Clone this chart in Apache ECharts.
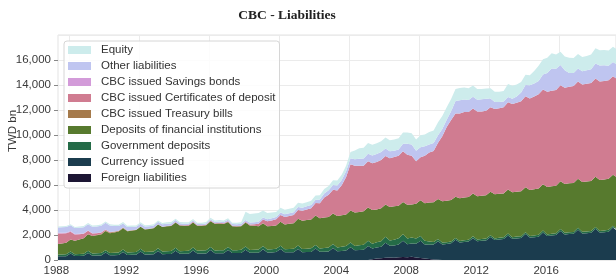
<!DOCTYPE html>
<html><head><meta charset="utf-8">
<script src="https://cdn.jsdelivr.net/npm/echarts@6/dist/echarts.min.js"></script>
<style>html,body{margin:0;padding:0;background:#fff}#c{width:616px;height:280px}</style>
</head><body><div id="c"></div>
<script>
// Quarterly observations (Feb, May, Aug, Nov) from May 1987 to May 2019, TWD bn
const startYear = 1987, startMonth = 4, nPoints = 129;
const tickYears = [1988, 1992, 1996, 2000, 2004, 2008, 2012, 2016];
const yTicks = [0, 2000, 4000, 6000, 8000, 10000, 12000, 14000, 16000];

const seriesNames = ['Foreign liabilities', 'Currency issued', 'Government deposits',
  'Deposits of financial institutions', 'CBC issued Treasury bills',
  'CBC issued Certificates of deposit', 'CBC issued Savings bonds',
  'Other liabilities', 'Equity'];

const foreign = [
0,0,0,
0,0,0,0, 0,0,0,0, 0,0,0,0, 0,0,0,0, 0,0,0,0, 0,0,0,0, 0,0,0,0, 0,0,0,0, 0,0,0,0,
0,0,0,0, 0,0,0,0, 0,0,0,0, 0,0,0,0, 0,0,0,0, 0,0,0,0, 0,0,0,0, 0,0,0,0,
0,60,120,150, 180,200,190,230, 250,220,260,200, 160,120,80,40, 20,0,0,0,
0,0,0,0, 0,0,0,0, 0,0,0,0, 0,0,0,0, 0,0,0,0, 0,0,0,0, 0,0,0,0, 0,0,0,0, 0,0,0,0,
0,0];

const currency = [
290,300,310,
520,320,330,340, 560,350,360,370, 600,380,390,400, 640,410,420,430,
680,440,450,460, 720,470,480,490, 750,500,505,510, 770,520,525,530,
800,540,545,550, 810,555,560,570, 830,575,580,590, 860,600,610,640,
880,620,625,630, 890,630,640,650, 920,660,670,690, 960,710,730,760,
1030,780,800,830, 1120,860,880,910, 1200,950,980,1020, 1300,1050,1070,1100,
1380,1120,1150,1200, 1480,1250,1290,1340, 1620,1400,1440,1480, 1740,1510,1540,1570,
1840,1600,1640,1680, 1960,1700,1730,1770, 2080,1800,1830,1870, 2200,1920,1960,2010,
2330,2050,2080,2110, 2420,2130,2150,2180, 2500,2200,2230,2270,
2600,2330];

const government = [
160,150,150,
170,150,160,170, 180,170,180,190, 190,180,200,210, 200,190,210,220,
220,200,210,230, 230,210,220,240, 230,210,220,240, 240,220,230,250,
240,220,230,240, 240,220,230,250, 250,230,240,260, 260,240,250,270,
270,250,260,280, 280,260,270,290, 290,270,300,320, 320,300,330,360,
380,350,380,400, 420,380,420,450, 480,420,460,500, 520,450,480,420,
380,300,250,200, 180,150,140,140, 150,130,140,140, 160,130,140,150,
150,130,140,140, 160,130,150,140, 150,130,140,150, 160,130,140,140,
150,130,150,140, 160,130,140,140, 150,130,140,150,
150,130];

const deposits = [
830,870,920,
960,1080,1160,1240, 1320,1400,1440,1490, 1530,1590,1610,1670, 1710,1700,1720,1750,
1760,1810,1820,1860, 1900,1970,2000,1990, 2020,2050,2020,2000, 2000,2000,1980,2000,
2070,2140,2150,2090, 2000,1920,1890,1880, 1920,1960,1920,1850, 1820,1860,1860,1850,
1910,1980,2020,2040, 2140,2260,2290,2310, 2350,2420,2430,2440, 2450,2510,2520,2530,
2560,2670,2670,2670, 2670,2700,2630,2640, 2590,2680,2670,2600, 2580,2700,2640,2780,
2860,3010,3120,3180, 3200,3300,3320,3320, 3300,3420,3420,3430, 3420,3460,3470,3470,
3470,3540,3520,3510, 3530,3590,3590,3590, 3600,3670,3690,3710, 3710,3790,3800,3800,
3820,3900,3910,3920, 3930,3990,4000,4010, 4020,4070,4080,4090,
4070,4120];

const treasury = [
0,0,0,
0,0,0,0, 0,0,20,40, 50,60,60,50, 50,40,40,30, 30,20,20,10, 10,0,0,0,
0,0,0,0, 0,0,0,0, 0,0,0,0, 0,0,0,0, 0,0,0,0, 0,0,0,0, 0,0,0,0, 0,0,0,0,
0,0,0,0, 0,0,0,0, 0,0,0,0, 0,0,0,0, 0,0,0,0, 0,0,0,0, 0,0,0,0, 0,0,0,0,
0,0,0,0, 0,0,0,0, 0,0,0,0, 0,0,0,0, 0,0,0,0, 0,0,0,0, 0,0,0,0, 0,0,0,0,
0,0];

const certificates = [
830,800,760,
620,500,420,350, 280,200,150,110, 70,40,20,10, 0,0,0,0,
0,0,0,0, 0,20,30,40, 50,50,40,50, 50,40,40,50,
60,50,50,60, 60,50,50,50, 60,80,120,200, 300,400,450,500,
550,600,620,650, 700,800,850,900, 1000,1200,1600,1780, 1900,2050,2400,3000,
3700,3750,3700,3650, 3700,3750,3800,3850, 3880,3900,3950,4000, 4050,4000,3900,3400,
3450,3800,4000,4100, 4500,5200,5900,6400, 6650,6780,6840,6800, 6800,6780,6730,6750,
6770,6810,6850,6900, 6980,7060,7120,7200, 7280,7320,7420,7540, 7580,7620,7640,7650,
7680,7700,7720,7750, 7770,7800,7820,7840, 7860,7880,7880,7880,
7890,7890];

const savings = [
60,60,50,
50,40,40,30, 30,20,20,10, 10,0,0,0,
0,0,0,0, 0,0,0,0, 0,0,0,0, 0,0,0,0, 0,0,0,0, 0,0,0,0, 0,0,0,0, 0,0,0,0,
0,0,0,0, 0,0,0,0, 0,0,0,0, 0,0,0,0, 0,0,0,0, 0,0,0,0, 0,0,0,0, 0,0,0,0,
0,0,0,0, 0,0,0,0, 0,0,0,0, 0,0,0,0, 0,0,0,0, 0,0,0,0, 0,0,0,0, 0,0,0,0,
0,0,0,0, 0,0,0,0, 0,0,0,0, 0,0,0,0,
0,0];

const other = [
430,440,450,
460,470,480,490, 500,520,520,540, 540,520,450,380, 330,300,260,230,
220,210,200,200, 200,190,180,170, 150,130,120,110, 110,100,100,100,
100,100,110,110, 120,130,140,150, 150,150,160,160, 170,170,180,190,
200,210,220,230, 230,240,250,260, 270,300,330,350, 380,400,420,450,
480,520,550,580, 600,620,640,650, 600,550,500,500, 600,880,900,850,
800,750,650,650, 600,580,570,700, 1000,1060,1000,950, 950,950,980,970,
700,570,500,450, 410,420,500,700, 900,1060,1050,1050, 1200,1500,1780,1700,
1630,1400,1100,1050, 1050,1060,1070,1100, 1200,1290,1250,1150,
1130,1130];

const equity = [
80,80,90,
90,90,100,100, 100,100,100,100, 100,100,100,110, 110,110,110,110,
110,110,110,110, 110,110,110,110, 110,110,110,110, 110,110,110,110,
110,110,110,110, 110,110,110,120, 650,680,700,700, 550,500,450,400,
380,370,360,350, 340,340,330,330, 330,330,350,350, 380,400,420,450,
500,700,850,850, 850,850,860,860, 870,880,900,900, 900,900,900,900,
950,950,1000,1000, 1050,1050,1000,980, 970,970,960,950, 900,850,820,810,
810,810,820,850, 1050,1050,950,850, 810,810,1000,1220, 1220,1220,1220,1150,
1050,1100,1220,1200, 1150,1130,1150,1180, 1220,1220,1220,1220,
1220,1220];

const seriesValues = [foreign, currency, government, deposits, treasury, certificates, savings, other, equity];
const colors = ['#1d1634', '#1b3c4e', '#246b47', '#577a2e', '#a57a4b', '#d07c91', '#d39bd9', '#bfc5f0', '#cdecec'];

const dates = [];
for (let i = 0; i < nPoints; i++) {
  const m = startMonth + 3 * i;
  dates.push(Date.UTC(startYear + Math.floor(m / 12), m % 12, 1));
}
const tickValues = tickYears.map(y => Date.UTC(y, 0, 1));
const xMin = Date.UTC(1987, 4, 15), xMax = Date.UTC(2019, 3, 5);

const chart = echarts.init(document.getElementById('c'), null, {renderer: 'canvas'});
const fontFamily = '"Liberation Sans", Arial, sans-serif';

const series = seriesNames.map((name, k) => ({
  name, type: 'line', stack: 'total', symbol: 'none', showSymbol: false,
  xAxisIndex: 0,
  lineStyle: {width: 0}, areaStyle: {color: colors[k], opacity: 1},
  itemStyle: {color: colors[k]}, emphasis: {disabled: true}, z: 2,
  data: dates.map((d, i) => [d, seriesValues[k][i]])
}));

chart.setOption({
  animation: false,
  useUTC: true,
  backgroundColor: '#fff',
  textStyle: {fontFamily},
  grid: {left: 58, right: 0, top: 35, bottom: 20, show: true, borderColor: '#e3e3e3', borderWidth: 1},
  xAxis: [{
    type: 'time', min: xMin, max: xMax, position: 'bottom',
    axisLine: {show: false}, axisTick: {show: false}, axisLabel: {show: false}, splitLine: {show: false}
  }, {
    type: 'value', min: xMin, max: xMax, position: 'bottom',
    axisLine: {show: false},
    axisTick: {show: false, customValues: tickValues},
    splitLine: {show: true, lineStyle: {color: '#ebebeb', width: 1}},
    axisLabel: {customValues: tickValues, formatter: v => String(new Date(v).getUTCFullYear()),
      align: 'right', margin: 5, color: '#3a3a3a', fontSize: 11.5, fontFamily}
  }],
  yAxis: {
    type: 'value', min: 0, max: 18000, interval: 2000,
    axisLine: {show: false},
    axisTick: {show: true, length: 4, lineStyle: {color: '#888'}},
    splitLine: {show: true, lineStyle: {color: '#ebebeb', width: 1}},
    axisLabel: {showMaxLabel: false, margin: 7, color: '#3a3a3a', fontSize: 11.5, fontFamily,
      formatter: v => yTicks.indexOf(v) >= 0 ? v.toLocaleString('en-US') : ''}
  },
  legend: {
    orient: 'vertical', left: 64, top: 41,
    data: seriesNames.slice().reverse(),
    icon: 'rect', itemWidth: 23, itemHeight: 8, itemGap: 2,
    padding: [2, 4, 3, 4],
    backgroundColor: 'rgba(255,255,255,0.85)', borderColor: '#d6d6d6', borderWidth: 1, borderRadius: 3,
    textStyle: {fontSize: 11.5, color: '#333', fontFamily, lineHeight: 14, padding: [0, 0, 0, 5]},
    selectedMode: false
  },
  graphic: [
    {type: 'text', x: 287, y: 16, z: 10,
     style: {text: 'CBC - Liabilities', fill: '#222', font: 'bold 13.5px "Liberation Serif", serif', align: 'center', verticalAlign: 'middle'}},
    {type: 'text', x: 13, y: 131, rotation: Math.PI / 2, z: 10,
     style: {text: 'TWD bn', fill: '#3a3a3a', font: '11.5px "Liberation Sans", Arial, sans-serif', align: 'center', verticalAlign: 'middle'}}
  ],
  series
});
</script></body></html>
